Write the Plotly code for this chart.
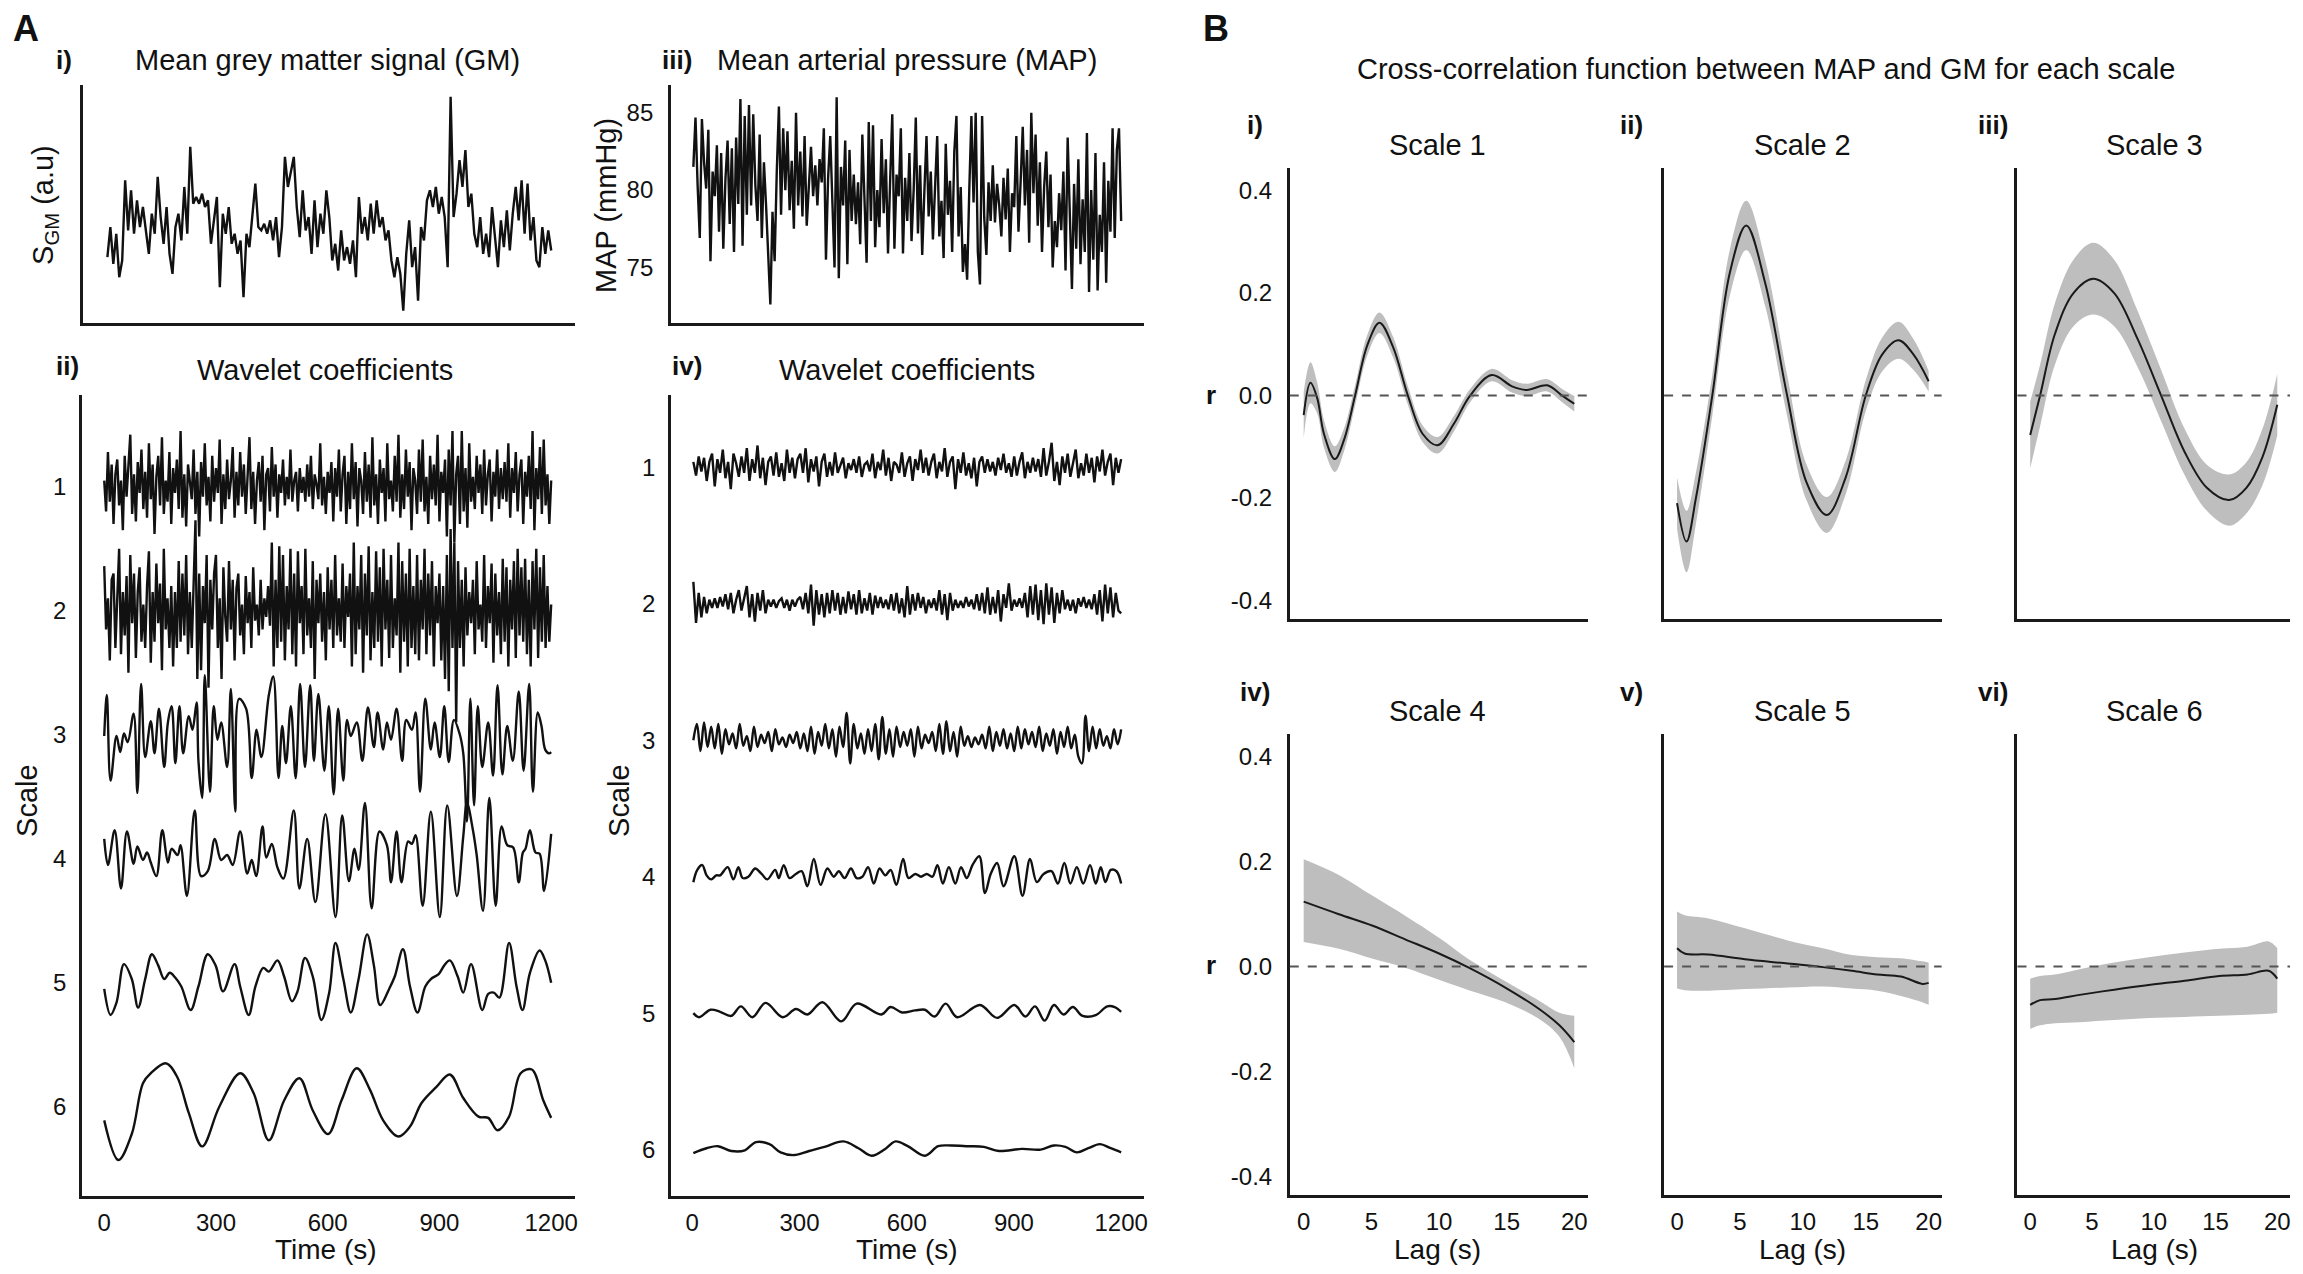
import numpy as np
import plotly.graph_objects as go

W, H = 2303, 1274
OFF = 8                      # page margin of the browser body
FW, FH = W - 2 * OFF, H - 2 * OFF
FONT = "Liberation Sans, Arial, Helvetica, sans-serif"
INK = "#111111"

# ---------------- DATA ----------------
# Panel A i : mean grey matter signal (a.u.)
GM = [-0.7, 0.2, -0.9, 0.0, -1.3, -0.8, 1.6, 0.1, 1.3, 0.0,
      1.0, 0.2, 0.8, 0.0, -0.6, 0.6, 0.0, 1.7, 0.5, -0.3,
      0.8, -0.6, -1.2, 0.2, 0.6, -0.2, 1.4, 0.0, 2.6, 0.9,
      1.1, 0.9, 1.2, 0.8, 1.0, -0.3, 0.5, 1.1, -1.6, 0.6,
      0.0, 0.8, -0.3, 0.0, -0.6, -0.2, -1.9, 0.0, -0.4, 0.5,
      1.5, 0.2, 0.1, 0.3, 0.0, 0.4, -0.2, 0.5, -0.7, 0.2,
      2.3, 1.4, 1.8, 2.3, 0.8, -0.1, 1.3, 0.1, 0.5, -0.6,
      1.0, -0.4, 0.6, 0.0, 1.3, 0.5, -0.8, -0.3, -1.1, 0.1,
      -0.8, -0.4, -0.9, -0.2, -1.3, 1.1, 0.0, 0.5, -0.2, 0.9,
      0.0, 1.0, 0.2, 0.5, -0.2, 0.1, -0.8, -1.3, -0.7, -1.2,
      -2.3, -0.6, 0.4, -1.0, -0.4, -2.0, 0.2, -0.2, 1.0, 1.3,
      0.8, 1.4, 0.6, 1.1, 0.5, -1.0, 4.1, 0.5, 1.2, 2.2,
      1.4, 2.5, 0.8, 1.2, 0.0, -0.4, 0.5, -0.6, 0.0, -0.7,
      0.8, -0.2, -1.0, 0.4, -0.4, 0.7, -0.5, 0.6, 1.4, 0.4,
      1.6, 0.0, 1.5, -0.2, 0.5, -0.8, -1.0, 0.2, -0.6, 0.1,
      -0.5]

# Panel A iii : mean arterial pressure (mmHg)
MAP = [81.5, 84.7, 80.3, 76.9, 84.6, 81.8, 80.1, 83.9, 75.4, 81.2,
       79.6, 82.9, 77.3, 82.4, 76.2, 80.7, 83.2, 77.8, 82.7, 76.0,
       83.4, 79.1, 85.9, 76.4, 84.8, 78.4, 85.5, 79.0, 84.9, 80.3,
       78.0, 83.6, 76.9, 81.8, 79.0, 75.9, 72.6, 78.6, 75.4, 81.2,
       85.4, 78.4, 84.0, 80.0, 83.8, 78.7, 81.9, 77.5, 85.0, 79.0,
       82.5, 78.3, 83.5, 77.7, 80.4, 82.8, 79.6, 81.6, 79.0, 82.0,
       80.5, 84.0, 75.5, 80.8, 83.5, 79.0, 75.0, 86.0, 74.3, 81.5,
       79.0, 83.2, 75.2, 82.6, 78.0, 81.0, 77.8, 80.5, 76.5, 83.6,
       79.0, 75.3, 84.4, 78.0, 84.2, 76.3, 80.0, 77.6, 83.3, 78.5,
       82.0, 75.9, 80.6, 84.9, 76.2, 81.0, 79.6, 84.0, 75.9, 80.8,
       78.0, 82.4, 76.7, 80.0, 84.7, 77.2, 81.6, 75.8, 79.9, 83.5,
       78.3, 81.2, 76.8, 80.0, 83.5, 77.0, 79.3, 75.6, 83.0, 78.4,
       80.6, 76.0, 82.5, 84.8, 77.0, 80.2, 74.7, 76.5, 74.2, 80.0,
       84.8, 79.2, 85.0, 76.0, 73.9, 84.8, 78.2, 75.8, 80.5, 78.0,
       81.6, 77.9, 80.4, 79.0, 77.0, 80.8, 78.1, 81.4, 76.0, 79.8,
       78.9, 83.5, 77.3, 80.5, 84.1, 79.0, 82.6, 76.6, 85.0, 79.8,
       83.6, 77.7, 81.8, 76.0, 80.2, 82.5, 77.6, 81.0, 75.0, 78.0,
       76.3, 79.8, 77.4, 81.2, 74.8, 83.4, 78.0, 73.6, 80.4, 76.2,
       82.0, 75.2, 79.4, 76.0, 83.7, 73.4, 80.0, 75.5, 82.4, 73.5,
       78.4, 76.0, 81.8, 74.0, 80.6, 77.3, 84.0, 76.9, 82.6, 84.0,
       78.0]

# Panel A ii : GM wavelet coefficients (a.u.), scales 1-2 sampled every 5 s
GM_W1 = [0.05, -0.20, 0.28, -0.12, 0.18, -0.30, 0.10, 0.22, -0.15, 0.05, -0.35, 0.25,
         -0.08, 0.15, 0.42, -0.22, 0.10, -0.28, 0.20, -0.05, 0.30, -0.18, 0.12, -0.25,
         0.35, -0.10, 0.18, -0.38, 0.08, 0.25, -0.15, 0.40, -0.22, 0.05, -0.12, 0.28,
         -0.30, 0.15, -0.05, 0.22, -0.18, 0.45, -0.25, 0.10, -0.32, 0.18, 0.02, -0.10,
         0.30, -0.22, 0.12, -0.40, 0.20, -0.08, 0.35, -0.15, 0.08, -0.28, 0.25, -0.12,
         0.15, -0.05, 0.38, -0.30, 0.10, -0.18, 0.22, -0.10, 0.05, 0.32, -0.25, 0.12,
         -0.15, 0.28, -0.08, 0.18, -0.22, 0.08, 0.40, -0.18, 0.12, -0.30, 0.05, 0.20,
         -0.12, 0.25, -0.35, 0.10, 0.15, -0.20, 0.32, -0.08, 0.18, -0.25, 0.10, -0.05,
         0.22, -0.15, 0.08, -0.10, 0.30, -0.12, 0.05, 0.12, -0.20, 0.15, -0.05, 0.08,
         -0.12, 0.18, -0.08, 0.25, -0.18, 0.10, 0.02, -0.10, 0.35, -0.15, 0.08, -0.22,
         0.12, -0.05, 0.20, -0.28, 0.15, -0.08, 0.30, -0.20, 0.10, 0.25, -0.30, 0.12,
         -0.18, 0.35, -0.10, 0.20, -0.32, 0.15, 0.05, -0.22, 0.28, -0.12, 0.18, -0.25,
         0.40, -0.15, 0.10, -0.30, 0.22, -0.05, 0.15, -0.28, 0.35, -0.10, 0.05, -0.20,
         0.25, -0.12, 0.42, -0.25, 0.10, -0.18, 0.30, -0.08, 0.20, -0.35, 0.15, 0.05,
         -0.22, 0.30, -0.12, 0.38, -0.20, 0.08, -0.30, 0.25, -0.10, 0.18, -0.15, 0.42,
         -0.28, 0.12, -0.05, 0.22, -0.40, 0.30, -0.15, 0.45, -0.45, 0.10, 0.25, -0.30,
         0.45, -0.20, 0.15, -0.33, 0.35, -0.12, 0.08, -0.18, 0.25, -0.05, 0.18, -0.22,
         0.30, -0.15, 0.10, 0.22, -0.28, 0.12, -0.08, 0.30, -0.18, 0.15, -0.10, 0.20,
         -0.12, 0.35, -0.25, 0.15, -0.05, 0.28, -0.20, 0.10, 0.22, -0.30, 0.12, -0.08,
         0.25, -0.18, 0.45, -0.35, 0.15, -0.10, 0.32, -0.22, 0.38, -0.15, 0.10, -0.30,
         0.05]
GM_W2 = [0.36, -0.15, 0.10, -0.40, 0.25, 0.30, -0.30, 0.05, 0.50, -0.35, 0.15, -0.20,
         0.28, -0.50, 0.45, -0.10, 0.30, -0.38, 0.15, 0.35, -0.25, 0.05, -0.30, 0.20,
         0.48, -0.42, 0.15, -0.25, 0.38, -0.10, 0.22, -0.48, 0.50, -0.15, 0.10, -0.30,
         0.20, -0.45, 0.15, -0.30, 0.40, -0.25, 0.30, -0.20, 0.45, -0.35, 0.15, -0.30,
         0.25, 0.73, -0.55, 0.30, -0.48, 0.20, -0.10, 0.45, -0.62, 0.25, -0.15, 0.30,
         0.45, -0.30, 0.10, -0.55, 0.35, -0.05, -0.25, 0.40, -0.15, 0.25, -0.40, 0.18,
         0.30, -0.20, 0.05, -0.35, 0.28, -0.10, 0.15, -0.30, 0.35, -0.08, 0.05, -0.20,
         0.25, -0.15, 0.10, -0.05, 0.20, -0.12, 0.55, -0.45, 0.25, -0.30, 0.52, -0.25,
         0.45, -0.40, 0.20, -0.15, 0.50, -0.35, 0.30, -0.45, 0.48, -0.10, 0.20, -0.35,
         0.50, -0.20, 0.10, -0.30, 0.40, -0.55, 0.25, -0.10, 0.30, -0.25, 0.15, -0.40,
         0.35, -0.15, 0.25, -0.30, 0.45, -0.20, 0.10, -0.25, 0.38, -0.30, 0.20, -0.05,
         0.30, -0.45, 0.55, -0.35, 0.20, -0.15, 0.45, -0.50, 0.30, -0.20, 0.52, -0.40,
         0.15, -0.30, 0.48, -0.25, 0.35, -0.45, 0.50, -0.15, 0.25, -0.38, 0.45, -0.30,
         0.10, -0.20, 0.55, -0.50, 0.40, -0.25, 0.30, -0.45, 0.50, -0.30, 0.20, -0.35,
         0.45, -0.40, 0.25, -0.15, 0.50, -0.35, 0.30, -0.20, 0.40, -0.45, 0.20, -0.10,
         0.30, -0.40, 0.20, -0.55, 0.45, -0.65, 0.66, -0.30, 0.55, -0.90, 0.40, -0.30,
         0.25, -0.45, 0.35, -0.20, 0.15, -0.10, 0.25, -0.35, 0.40, -0.15, 0.05, -0.25,
         0.45, -0.30, 0.20, -0.10, 0.38, -0.42, 0.30, -0.20, 0.15, -0.35, 0.42, -0.25,
         0.35, -0.45, 0.25, -0.15, 0.40, -0.38, 0.50, -0.20, 0.35, -0.25, 0.42, -0.35,
         0.25, -0.45, 0.40, -0.15, 0.50, -0.38, 0.35, -0.25, 0.45, -0.30, 0.20, -0.25,
         0.05]
GM_W3_T = [0, 7, 17, 33, 43, 53, 63, 79, 89, 99, 110, 125, 135, 147, 161, 171, 181, 191,
           202, 212, 227, 237, 248, 253, 263, 270, 284, 294, 304, 314, 330, 340, 352, 362,
           381, 396, 409, 422, 442, 454, 468, 478, 488, 501, 514, 526, 539, 553, 563, 575,
           591, 603, 616, 628, 642, 652, 662, 678, 693, 708, 724, 734, 749, 759, 770, 785,
           800, 811, 826, 836, 848, 862, 877, 887, 901, 913, 925, 939, 954, 964, 974, 983,
           993, 1003, 1015, 1031, 1044, 1056, 1069, 1082, 1097, 1113, 1126, 1141, 1151,
           1164, 1174, 1184, 1194, 1200]
GM_W3 = [-0.01, 0.32, -0.37, -0.01, -0.14, 0.01, -0.06, 0.17, -0.47, 0.41, -0.18, 0.11,
         -0.15, 0.21, -0.26, 0.10, 0.23, -0.23, 0.23, -0.15, 0.15, 0.04, 0.26, -0.21,
         -0.51, 0.48, -0.46, 0.23, -0.04, 0.10, -0.26, 0.37, -0.62, 0.29, 0.21, -0.35,
         0.04, -0.18, 0.32, 0.47, -0.35, 0.07, -0.23, 0.23, -0.35, 0.41, -0.26, 0.40,
         -0.21, 0.33, -0.29, 0.23, -0.48, 0.21, -0.37, 0.12, -0.01, 0.10, -0.21, 0.22,
         -0.10, 0.18, -0.12, 0.10, -0.04, 0.21, -0.21, 0.12, 0.04, 0.18, -0.46, 0.29,
         -0.12, 0.10, -0.18, 0.23, -0.22, 0.12, 0.01, -0.15, -0.70, 0.29, -0.57, 0.23,
         -0.26, 0.10, -0.33, 0.40, -0.32, 0.07, -0.21, 0.35, -0.29, 0.41, -0.46, 0.18,
         0.07, -0.12, -0.15, -0.14]
GM_W4_T = [0, 10, 28, 45, 61, 79, 89, 104, 115, 125, 140, 156, 171, 181, 197, 205, 222,
           243, 260, 278, 297, 314, 330, 345, 365, 384, 396, 408, 425, 435, 450, 465, 481,
           509, 524, 545, 567, 594, 621, 639, 657, 672, 683, 700, 718, 739, 759, 770, 785,
           798, 816, 826, 836, 855, 877, 901, 921, 947, 964, 974, 990, 1000, 1017, 1034,
           1051, 1067, 1082, 1098, 1113, 1124, 1131, 1143, 1158, 1169, 1181, 1200]
GM_W4 = [0.16, -0.05, 0.23, -0.24, 0.22, -0.04, 0.10, -0.01, 0.05, -0.03,
         -0.14, 0.23, -0.03, 0.08, 0.03, 0.11, -0.30, 0.39, -0.14, -0.10,
         0.16, -0.01, 0.03, -0.05, 0.22, -0.12, -0.01, -0.14, 0.26, 0.01,
         0.12, -0.07, -0.16, 0.39, -0.24, 0.16, -0.35, 0.36, -0.47, 0.35,
         -0.18, 0.08, -0.09, 0.45, -0.40, 0.22, 0.11, -0.19, 0.22, -0.19,
         0.14, 0.12, 0.19, -0.38, 0.38, -0.47, 0.43, -0.30, 0.18, 0.45,
         0.23, 0.03, -0.42, 0.49, -0.38, 0.26, 0.11, 0.09, -0.19, 0.05,
         0.08, 0.23, 0.05, 0.04, -0.26, 0.20]
GM_W5_T = [0, 17, 33, 53, 74, 91, 110, 128, 145, 161, 176, 191, 207, 232, 253, 278, 299,
           319, 350, 365, 388, 406, 427, 442, 465, 483, 504, 519, 539, 560, 583, 604, 621,
           642, 662, 683, 706, 724, 741, 765, 780, 802, 821, 841, 862, 877, 898, 913, 928,
           949, 964, 985, 1015, 1031, 1046, 1061, 1087, 1107, 1123, 1143, 1169, 1184, 1200]
GM_W5 = [-0.05, -0.26, -0.16, 0.15, 0.03, -0.20, 0.03, 0.23, 0.14, 0.03, 0.08, 0.04,
         -0.03, -0.22, -0.03, 0.23, 0.14, -0.07, 0.15, -0.03, -0.26, -0.03, 0.12, 0.09,
         0.18, 0.05, -0.15, -0.07, 0.20, 0.05, -0.30, -0.08, 0.32, 0.03, -0.24, 0.03,
         0.39, 0.14, -0.18, -0.05, 0.05, 0.27, -0.03, -0.24, -0.03, 0.03, 0.07, 0.14,
         0.18, 0.05, -0.08, 0.15, -0.22, -0.09, -0.08, -0.12, 0.32, -0.03, -0.22, 0.08,
         0.26, 0.18, 0.00]
GM_W6_T = [0, 38, 74, 104, 125, 166, 196, 227, 263, 309, 365, 401, 442, 483, 524, 560,
           601, 637, 678, 713, 749, 790, 821, 852, 892, 928, 964, 1005, 1031, 1056, 1087,
           1118, 1148, 1179, 1200]
GM_W6 = [-0.11, -0.43, -0.22, 0.19, 0.27, 0.35, 0.24, -0.05, -0.32, 0.00,
         0.27, 0.11, -0.27, 0.05, 0.23, -0.03, -0.22, 0.05, 0.31, 0.14,
         -0.11, -0.24, -0.16, 0.03, 0.16, 0.26, 0.07, -0.08, -0.09, -0.19,
         -0.08, 0.27, 0.30, 0.05, -0.09]

# Panel A iv : MAP wavelet coefficients (a.u.)
MAP_W1 = [0.04, -0.06, 0.08, -0.03, 0.07, -0.10, 0.04, 0.10, -0.14, 0.06,
          -0.04, 0.13, -0.08, 0.04, -0.16, 0.10, 0.03, -0.07, 0.08, -0.04,
          0.14, -0.10, 0.06, -0.04, 0.16, -0.08, 0.07, -0.13, 0.04, 0.08,
          -0.06, 0.11, -0.07, 0.03, -0.10, 0.13, -0.04, 0.07, -0.08, 0.06,
          0.10, -0.04, 0.14, -0.11, 0.06, -0.03, 0.08, -0.14, 0.04, 0.10,
          -0.07, 0.04, -0.06, 0.11, -0.04, 0.02, 0.07, -0.08, 0.03, -0.02,
          0.06, -0.04, 0.08, -0.07, 0.02, 0.04, -0.03, 0.10, -0.08, 0.04,
          -0.02, 0.13, -0.06, 0.07, -0.10, 0.04, 0.02, -0.04, 0.11, -0.07,
          0.03, 0.08, -0.10, 0.06, -0.02, 0.13, -0.04, 0.07, -0.06, 0.04,
          0.10, -0.08, 0.04, -0.03, 0.14, -0.07, 0.04, 0.08, -0.16, 0.06,
          -0.04, 0.11, -0.06, 0.03, -0.08, 0.07, -0.14, 0.04, 0.08, -0.04,
          0.06, -0.03, 0.04, -0.06, 0.07, -0.02, 0.10, -0.04, 0.03, -0.07,
          0.08, -0.06, 0.04, 0.11, -0.08, 0.04, -0.04, 0.07, -0.03, 0.06,
          -0.07, 0.14, -0.06, 0.04, 0.18, -0.10, 0.04, -0.13, 0.08, -0.04,
          0.10, -0.07, 0.04, 0.13, -0.08, 0.03, -0.06, 0.10, -0.04, 0.07,
          -0.11, 0.08, -0.03, 0.13, -0.06, 0.04, 0.10, -0.13, 0.07, -0.04,
          0.06]
MAP_W2 = [0.16, -0.14, 0.08, -0.10, 0.05, -0.07, 0.03, -0.03, 0.04, -0.03,
          0.05, -0.02, 0.07, -0.04, 0.08, -0.07, 0.03, 0.10, -0.05, 0.03,
          0.13, -0.10, 0.07, -0.13, 0.08, -0.05, 0.10, -0.07, 0.03, -0.02,
          0.03, -0.03, 0.02, 0.04, -0.03, 0.03, -0.05, 0.03, -0.02, 0.03,
          0.05, -0.04, 0.08, -0.07, 0.14, -0.16, 0.10, -0.08, 0.07, -0.10,
          0.08, -0.07, 0.10, -0.05, 0.08, -0.08, 0.05, -0.07, 0.09, -0.04,
          0.07, -0.08, 0.10, -0.07, 0.04, -0.05, 0.08, -0.08, 0.06, -0.03,
          0.05, -0.03, 0.03, -0.04, 0.07, -0.05, 0.08, -0.07, 0.04, -0.10,
          0.13, -0.08, 0.07, -0.05, 0.08, -0.03, 0.05, -0.07, 0.03, -0.03,
          0.04, -0.05, 0.10, -0.08, 0.07, -0.12, 0.08, -0.05, 0.03, -0.03,
          0.02, -0.03, 0.05, -0.02, 0.03, -0.04, 0.07, -0.05, 0.08, -0.07,
          0.12, -0.08, 0.05, -0.07, 0.10, -0.13, 0.07, -0.03, 0.15, -0.05,
          0.03, -0.02, 0.04, -0.03, 0.08, -0.10, 0.13, -0.08, 0.14, -0.12,
          0.10, -0.15, 0.15, -0.08, 0.12, -0.14, 0.08, -0.07, 0.10, -0.04,
          0.03, -0.05, 0.03, -0.07, 0.04, -0.02, 0.05, -0.03, 0.03, -0.04,
          0.07, -0.08, 0.10, -0.13, 0.14, -0.07, 0.12, -0.10, 0.08, -0.05,
          -0.07]
MAP_W3 = [0.00, 0.12, -0.08, 0.13, -0.05, 0.10, -0.06, 0.12, -0.10, 0.08,
          -0.03, 0.05, -0.06, 0.12, -0.04, 0.03, -0.08, 0.10, -0.05, 0.04,
          -0.02, 0.06, -0.08, 0.08, -0.03, 0.02, -0.05, 0.04, -0.02, 0.06,
          -0.06, 0.05, -0.08, 0.10, -0.10, 0.06, -0.04, 0.12, -0.06, 0.08,
          -0.12, 0.10, -0.05, 0.20, -0.17, 0.12, -0.06, 0.05, -0.10, 0.08,
          -0.08, 0.12, -0.14, 0.17, -0.10, 0.08, -0.12, 0.10, -0.05, 0.06,
          -0.04, 0.08, -0.12, 0.10, -0.06, 0.04, -0.02, 0.06, -0.08, 0.12,
          -0.10, 0.14, -0.08, 0.06, -0.12, 0.10, -0.04, 0.03, -0.05, 0.02,
          -0.03, 0.04, -0.06, 0.10, -0.08, 0.06, -0.04, 0.08, -0.06, 0.05,
          -0.08, 0.10, -0.06, 0.08, -0.03, 0.06, -0.05, 0.10, -0.08, 0.05,
          -0.04, 0.08, -0.10, 0.06, -0.05, 0.10, -0.06, 0.04, -0.12, -0.17,
          0.18, -0.08, 0.10, -0.06, 0.08, -0.04, 0.03, -0.06, 0.08, -0.03,
          0.08]
MAP_W4_T = [3, 14, 28, 40, 53, 67, 78, 99, 115, 129, 141, 157, 176, 194, 210, 232, 242,
            256, 272, 290, 306, 322, 340, 359, 378, 396, 410, 426, 444, 460, 476, 492, 508,
            524, 540, 555, 571, 590, 605, 624, 640, 656, 672, 686, 701, 718, 736, 752, 768,
            784, 803, 819, 835, 853, 871, 901, 924, 945, 964, 983, 1005, 1023, 1041, 1058,
            1076, 1094, 1113, 1129, 1143, 1156, 1171, 1187, 1200]
MAP_W4 = [-0.04, 0.05, 0.085, 0.01, -0.02, 0.01, 0.01, 0.07, -0.02, 0.07,
          -0.01, 0.00, 0.06, 0.02, -0.02, 0.05, -0.01, 0.085, -0.01, 0.02,
          0.04, -0.07, 0.13, -0.06, 0.06, 0.00, 0.04, -0.01, 0.06, -0.01,
          0.00, 0.07, -0.05, 0.06, 0.01, 0.05, -0.06, 0.13, -0.01, 0.02,
          0.00, 0.02, 0.00, 0.085, -0.05, 0.07, -0.05, 0.07, -0.01, 0.085,
          0.15, -0.12, 0.02, 0.10, -0.07, 0.15, -0.14, 0.13, -0.04, 0.02,
          0.04, -0.05, 0.10, -0.05, 0.07, -0.05, 0.085, -0.05, 0.07, -0.04,
          0.05, 0.04, -0.05]
MAP_W5_T = [3, 19, 51, 78, 109, 136, 168, 205, 253, 290, 322, 364, 417, 460, 529, 555,
            587, 624, 651, 678, 709, 741, 805, 853, 901, 932, 959, 986, 1012, 1039, 1065,
            1092, 1129, 1161, 1182, 1200]
MAP_W5 = [0.00, -0.03, 0.025, 0.01, -0.02, 0.05, -0.03, 0.075, -0.03, 0.03,
          -0.01, 0.08, -0.06, 0.07, -0.01, 0.045, 0.005, 0.02, 0.025, -0.025,
          0.07, -0.03, 0.06, -0.035, 0.06, -0.025, 0.05, -0.055, 0.06, -0.01,
          0.045, -0.02, -0.015, 0.05, 0.045, 0.01]
MAP_W6_T = [3, 40, 72, 109, 147, 178, 216, 247, 285, 327, 370, 423, 465, 502, 540, 569,
            603, 651, 688, 725, 773, 816, 858, 922, 975, 1012, 1044, 1076, 1108, 1140, 1171,
            1200]
MAP_W6 = [-0.025, 0.01, 0.025, -0.01, -0.005, 0.055, 0.04, -0.02, -0.04, -0.01,
          0.02, 0.06, 0.01, -0.045, 0.005, 0.06, 0.025, -0.045, 0.025, 0.03,
          0.025, 0.02, -0.01, 0.005, 0.00, 0.03, 0.02, -0.02, 0.01, 0.04,
          0.01, -0.02]

# Panel B : cross-correlation (r) vs lag (s) with confidence band
CC_LAG = [
    [0, 0.5, 1, 1.5, 2.3, 3, 3.8, 4.7, 5.6, 6.6, 7.7, 8.8, 9.9, 11.1, 12.3, 13.9, 15.4, 16.5, 18, 19.1, 20],
    [0, 0.75, 1.5, 2.8, 4.2, 5.5, 7.0, 8.75, 10.3, 11.9, 13.4, 15, 16.3, 17.6, 18.8, 20],
    [0, 0.8, 2, 3.5, 5.1, 6.8, 8.7, 10.6, 12.5, 14.3, 16.1, 17.5, 18.8, 20],
    [0, 2.6, 5.1, 7.5, 10, 12.2, 14.9, 17.4, 18.9, 20],
    [0, 0.6, 2.5, 5.4, 8.8, 11.6, 13.9, 15.9, 17.8, 19.5, 20],
    [0, 0.8, 2, 4, 6.8, 9.6, 12.5, 15.3, 17.6, 19.3, 20],
]
CC_R = [
    [-0.038, 0.025, -0.005, -0.075, -0.124, -0.085, 0.0, 0.098, 0.142, 0.095, 0.0, -0.075, -0.097, -0.055, 0.0, 0.040, 0.018, 0.011, 0.020, 0.0, -0.016],
    [-0.21, -0.285, -0.2, 0.0, 0.24, 0.332, 0.22, 0.0, -0.17, -0.233, -0.16, 0.0, 0.08, 0.108, 0.08, 0.028],
    [-0.077, 0.0, 0.12, 0.2, 0.228, 0.2, 0.11, 0.0, -0.11, -0.18, -0.204, -0.18, -0.12, -0.018],
    [0.124, 0.100, 0.078, 0.052, 0.025, -0.002, -0.040, -0.081, -0.112, -0.144],
    [0.035, 0.025, 0.023, 0.014, 0.006, -0.001, -0.008, -0.015, -0.019, -0.033, -0.031],
    [-0.073, -0.064, -0.062, -0.054, -0.044, -0.035, -0.027, -0.018, -0.015, -0.008, -0.023],
]
CC_LO = [
    [-0.083, -0.015, -0.035, -0.102, -0.149, -0.107, -0.020, 0.078, 0.122, 0.075, -0.018, -0.091, -0.113, -0.070, -0.013, 0.028, 0.006, -0.001, 0.008, -0.013, -0.031],
    [-0.26, -0.345, -0.25, -0.04, 0.195, 0.284, 0.175, -0.04, -0.205, -0.268, -0.193, -0.03, 0.047, 0.072, 0.05, 0.008],
    [-0.142, -0.06, 0.06, 0.135, 0.158, 0.135, 0.055, -0.05, -0.155, -0.225, -0.254, -0.23, -0.175, -0.078],
    [0.047, 0.034, 0.015, -0.002, -0.025, -0.045, -0.068, -0.100, -0.134, -0.194],
    [-0.042, -0.045, -0.046, -0.043, -0.040, -0.038, -0.042, -0.046, -0.056, -0.068, -0.073],
    [-0.119, -0.112, -0.108, -0.106, -0.102, -0.098, -0.096, -0.094, -0.092, -0.090, -0.088],
]
CC_HI = [
    [0.007, 0.065, 0.025, -0.048, -0.099, -0.063, 0.020, 0.118, 0.162, 0.115, 0.018, -0.059, -0.081, -0.040, 0.013, 0.052, 0.030, 0.023, 0.032, 0.013, -0.001],
    [-0.16, -0.225, -0.15, 0.04, 0.285, 0.38, 0.265, 0.04, -0.135, -0.198, -0.127, 0.03, 0.113, 0.144, 0.11, 0.048],
    [-0.012, 0.06, 0.18, 0.265, 0.298, 0.265, 0.165, 0.05, -0.065, -0.135, -0.154, -0.13, -0.065, 0.042],
    [0.205, 0.175, 0.135, 0.097, 0.055, 0.014, -0.028, -0.065, -0.088, -0.094],
    [0.105, 0.098, 0.092, 0.073, 0.050, 0.035, 0.022, 0.018, 0.016, 0.010, 0.008],
    [-0.023, -0.018, -0.015, -0.005, 0.008, 0.018, 0.027, 0.034, 0.038, 0.048, 0.035],
]

SCALES = [1, 2, 3, 4, 5, 6]
TIME_TICKS = [0, 300, 600, 900, 1200]
LAG_TICKS = [0, 5, 10, 15, 20]
R_TICKS = [-0.4, -0.2, 0.0, 0.2, 0.4]
R_TICKTEXT = ["-0.4", "-0.2", "0.0", "0.2", "0.4"]
MAP_TICKS = [75, 80, 85]
CC_TITLES = ["Scale 1", "Scale 2", "Scale 3", "Scale 4", "Scale 5", "Scale 6"]
CC_TAGS = ["i)", "ii)", "iii)", "iv)", "v)", "vi)"]

# ---------------- FIGURE ----------------
def pxx(x):
    return min(1.0, max(0.0, (x - OFF) / FW))


def pyy(y):
    return min(1.0, max(0.0, 1 - (y - OFF) / FH))


LINE = dict(color=INK, width=2.4)
fig = go.Figure()

# A i
fig.add_trace(go.Scatter(x=np.linspace(6, 1200, len(GM)), y=GM, mode="lines",
                         line=LINE, xaxis="x", yaxis="y"))
# A iii
fig.add_trace(go.Scatter(x=np.linspace(3, 1200, len(MAP)), y=MAP, mode="lines",
                         line=LINE, xaxis="x2", yaxis="y2"))

# A ii
gm_series = [
    (np.linspace(0, 1200, len(GM_W1)), GM_W1, "linear"),
    (np.linspace(0, 1200, len(GM_W2)), GM_W2, "linear"),
    (GM_W3_T, GM_W3, "spline"),
    (GM_W4_T, GM_W4, "spline"),
    (GM_W5_T, GM_W5, "spline"),
    (GM_W6_T, GM_W6, "spline"),
]
for s, (t, v, shp) in zip(SCALES, gm_series):
    fig.add_trace(go.Scatter(x=t, y=[s - val for val in v], mode="lines",
                             line=dict(color=INK, width=2.4, shape=shp),
                             xaxis="x3", yaxis="y3"))

# A iv
map_series = [
    (np.linspace(3, 1200, len(MAP_W1)), MAP_W1, "linear"),
    (np.linspace(3, 1200, len(MAP_W2)), MAP_W2, "linear"),
    (np.linspace(3, 1200, len(MAP_W3)), MAP_W3, "spline"),
    (MAP_W4_T, MAP_W4, "spline"),
    (MAP_W5_T, MAP_W5, "spline"),
    (MAP_W6_T, MAP_W6, "spline"),
]
for s, (t, v, shp) in zip(SCALES, map_series):
    fig.add_trace(go.Scatter(x=t, y=[s - val for val in v], mode="lines",
                             line=dict(color=INK, width=2.4, shape=shp),
                             xaxis="x4", yaxis="y4"))

# B
for k in range(6):
    xa, ya = f"x{k + 5}", f"y{k + 5}"
    fig.add_trace(go.Scatter(x=CC_LAG[k], y=CC_LO[k], mode="lines",
                             line=dict(width=0, shape="spline", color="#BEBEBE"),
                             xaxis=xa, yaxis=ya, hoverinfo="skip"))
    fig.add_trace(go.Scatter(x=CC_LAG[k], y=CC_HI[k], mode="lines", fill="tonexty",
                             fillcolor="#BEBEBE",
                             line=dict(width=0, shape="spline", color="#BEBEBE"),
                             xaxis=xa, yaxis=ya, hoverinfo="skip"))
    fig.add_trace(go.Scatter(x=CC_LAG[k], y=CC_R[k], mode="lines",
                             line=dict(color="#1a1a1a", width=2, shape="spline"),
                             xaxis=xa, yaxis=ya))


def axis(domain, rng, **kw):
    d = dict(domain=domain, range=rng, showline=True, linecolor="#1a1a1a", linewidth=2.5,
             showgrid=False, zeroline=False, ticks="",
             tickfont=dict(family=FONT, size=24, color=INK))
    d.update(kw)
    return d


layout = dict(width=FW, height=FH, margin=dict(l=0, r=0, t=0, b=0),
              paper_bgcolor="white", plot_bgcolor="white", showlegend=False,
              font=dict(family=FONT, color=INK))

TOP_A, BOT_A = 85, 323
TOP_W, BOT_W = 395, 1196
XR = [-60, 1264]
# A i
layout["xaxis"] = axis([pxx(83), pxx(576)], XR, showticklabels=False, anchor="y")
layout["yaxis"] = axis([pyy(BOT_A), pyy(TOP_A)], [-2.67, 4.45], showticklabels=False, anchor="x")
# A iii
layout["xaxis2"] = axis([pxx(672), pxx(1146)], XR, showticklabels=False, anchor="y2")
layout["yaxis2"] = axis([pyy(BOT_A), pyy(TOP_A)], [71.4, 86.8], tickvals=MAP_TICKS,
                        ticklabelstandoff=10, anchor="x2")
# A ii
layout["xaxis3"] = axis([pxx(82), pxx(576)], XR, tickvals=TIME_TICKS,
                        ticktext=[str(v) for v in TIME_TICKS], ticklabelstandoff=3, anchor="y3")
layout["yaxis3"] = axis([pyy(BOT_W), pyy(TOP_W)], [6.72, 0.26], tickvals=SCALES,
                        ticklabelstandoff=8, anchor="x3")
# A iv
layout["xaxis4"] = axis([pxx(672), pxx(1146)], XR, tickvals=TIME_TICKS,
                        ticktext=[str(v) for v in TIME_TICKS], ticklabelstandoff=3, anchor="y4")
layout["yaxis4"] = axis([pyy(BOT_W), pyy(TOP_W)], [6.34, 0.47], tickvals=SCALES,
                        ticklabelstandoff=8, anchor="x4")

BX = [(1292, 1591), (1667, 1945), (2021, 2294)]
BY = [(168, 619), (734, 1195)]
shapes = []
for k in range(6):
    row, col = divmod(k, 3)
    xa, ya = f"xaxis{k + 5}", f"yaxis{k + 5}"
    layout[xa] = axis([pxx(BX[col][0]), pxx(BX[col][1])], [-1.03, 21.03],
                      tickvals=LAG_TICKS, showticklabels=(row == 1),
                      ticklabelstandoff=3, anchor=f"y{k + 5}")
    layout[ya] = axis([pyy(BY[row][1]), pyy(BY[row][0])], [-0.436, 0.444],
                      tickvals=R_TICKS, ticktext=R_TICKTEXT, showticklabels=(col == 0),
                      ticklabelstandoff=10, anchor=f"x{k + 5}")
    shapes.append(dict(type="line", xref=f"x{k + 5} domain", yref=f"y{k + 5}",
                       x0=0, x1=1, y0=0, y1=0,
                       line=dict(color="#555555", width=2, dash="dash")))
layout["shapes"] = shapes


def ann(text, x, y, size=29, bold=False, angle=0, xanchor="center"):
    return dict(text=f"<b>{text}</b>" if bold else text, x=pxx(x), y=pyy(y),
                xref="paper", yref="paper", showarrow=False, xanchor=xanchor,
                yanchor="middle", textangle=angle,
                font=dict(family=FONT, size=size, color=INK))


anns = [
    ann("A", 26, 28, size=36, bold=True),
    ann("B", 1218, 28, size=36, bold=True),
    ann("i)", 64, 60, size=26, bold=True),
    ann("Mean grey matter signal (GM)", 328, 60),
    ann("iii)", 678, 60, size=26, bold=True),
    ann("Mean arterial pressure (MAP)", 909, 60),
    ann("S<sub>GM</sub> (a.u)", 45, 205, angle=-90),
    ann("MAP (mmHg)", 607, 205, angle=-90),
    ann("ii)", 68, 366, size=26, bold=True),
    ann("Wavelet coefficients", 326, 370),
    ann("iv)", 688, 366, size=26, bold=True),
    ann("Wavelet coefficients", 909, 370),
    ann("Scale", 27, 800, angle=-90),
    ann("Scale", 620, 800, angle=-90),
    ann("Time (s)", 327, 1249, size=28),
    ann("Time (s)", 909, 1249, size=28),
    ann("Cross-correlation function between MAP and GM for each scale", 1769, 69),
    ann("r", 1213, 395, size=26, bold=True),
    ann("r", 1213, 965, size=26, bold=True),
]
TAG_X = [1257, 1634, 1996]
TITLE_X = [1440, 1806, 2158]
TAG_Y = [125, 692]
TITLE_Y = [145, 711]
for k in range(6):
    row, col = divmod(k, 3)
    anns.append(ann(CC_TAGS[k], TAG_X[col], TAG_Y[row], size=26, bold=True))
    anns.append(ann(CC_TITLES[k], TITLE_X[col], TITLE_Y[row]))
for col in range(3):
    anns.append(ann("Lag (s)", TITLE_X[col], 1249, size=28))
layout["annotations"] = anns

fig.update_layout(**layout)
fig.write_html("out.html")
